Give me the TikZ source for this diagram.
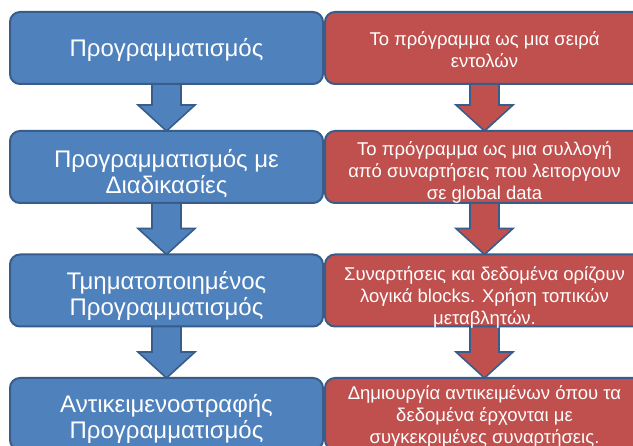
\documentclass[tikz,border=0pt]{standalone}
\usepackage{fontspec}
\setmainfont{Liberation Sans}
\usetikzlibrary{calc}
\definecolor{boxblue}{HTML}{4F81BD}
\definecolor{boxred}{HTML}{C0504D}
\definecolor{edgeblue}{HTML}{385D8A}
\pgfdeclarelayer{arrows}
\pgfsetlayers{arrows,main}

\begin{document}
\begin{tikzpicture}[x=1pt,y=-1pt,
  stage/.style={draw=edgeblue, line width=2pt, rounded corners=10pt,
    minimum height=72pt, inner sep=0pt},
  bluestage/.style={stage, fill=boxblue, minimum width=313pt},
  redstage/.style={stage, fill=boxred, minimum width=319pt},
  bluetext/.style={align=center, text=white, inner sep=0pt,
    font=\fontsize{24}{26}\selectfont},
  redtext/.style={align=center, text=white, inner sep=0pt,
    font=\fontsize{18.5}{22}\selectfont},
  arrowedge/.style={draw=edgeblue, line width=1.6pt, line join=miter}]

% page frame
\clip (0,0) rectangle (633,446);

% left column: programming paradigms
\node[bluestage] (b1) at (166.5,48)    {};
\node[bluestage] (b2) at (166.5,167)   {};
\node[bluestage] (b3) at (166.5,290.5) {};
\node[bluestage] (b4) at (166.5,414)   {};
\node[bluetext] (b1t) at ($(b1.center)+(0,2)$) {Προγραμματισμός};
\node[bluetext] (b2t) at ($(b2.center)+(0,7)$) {Προγραμματισμός με\\Διαδικασίες};
\node[bluetext] (b3t) at ($(b3.center)+(0,5)$) {Τμηματοποιημένος\\Προγραμματισμός};
\node[bluetext] (b4t) at ($(b4.center)+(0,5)$) {Αντικειμενοστραφής\\Προγραμματισμός};

% right column: what a program is in each paradigm
\node[redstage] (r1) at (484.5,48)    {};
\node[redstage] (r2) at (484.5,167)   {};
\node[redstage] (r3) at (484.5,290.5) {};
\node[redstage] (r4) at (484.5,414)   {};
\node[redtext] (r1t) at ($(r1.center)+(0,2)$)   {Το πρόγραμμα ως μια σειρά\\εντολών};
\node[redtext] (r2t) at ($(r2.center)+(0,5.5)$) {Το πρόγραμμα ως μια συλλογή\\από συναρτήσεις που λειτοργουν\\σε global data};
\node[redtext] (r3t) at ($(r3.center)+(0,6.5)$) {Συναρτήσεις και δεδομένα ορίζουν\\λογικά blocks. Χρήση τοπικών\\μεταβλητών.};
\node[redtext] (r4t) at ($(r4.center)+(0,2)$)   {Δημιουργία αντικειμένων όπου τα\\δεδομένα έρχονται με\\συγκεκριμένες συναρτήσεις.};

% block arrows between consecutive stages, kept behind the boxes
% (y grows downwards here, so a negative offset moves up)
\begin{pgfonlayer}{arrows}
\fill[white] (0,0) rectangle (633,446);
\foreach \a/\b/\c in {b1/b2/boxblue, b2/b3/boxblue, b3/b4/boxblue,
                      r1/r2/boxred, r2/r3/boxred, r3/r4/boxred} {
  \fill[\c] ($(\a.south)+(-14.5,-6)$) -- ($(\b.north)+(-14.5,-25)$)
    -- ($(\b.north)+(-28.5,-25)$) -- ($(\b.north)+(0,1)$) -- ($(\b.north)+(28.5,-25)$)
    -- ($(\b.north)+(14.5,-25)$) -- ($(\a.south)+(14.5,-6)$) -- cycle;
  \draw[arrowedge] ($(\a.south)+(-14.5,-6)$) -- ($(\b.north)+(-14.5,-25)$)
    -- ($(\b.north)+(-28.5,-25)$) -- ($(\b.north)+(0,1)$) -- ($(\b.north)+(28.5,-25)$)
    -- ($(\b.north)+(14.5,-25)$) -- ($(\a.south)+(14.5,-6)$);
}
\end{pgfonlayer}
\end{tikzpicture}
\end{document}
